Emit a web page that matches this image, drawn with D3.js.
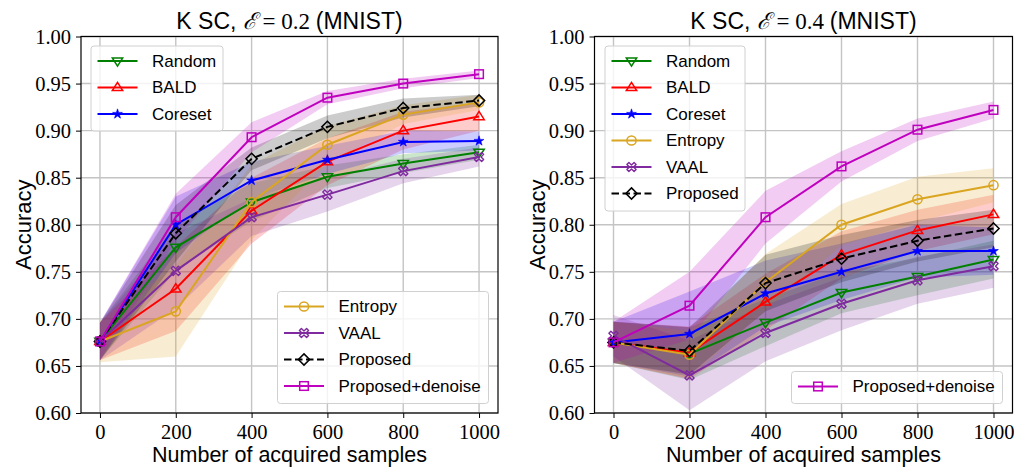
<!DOCTYPE html>
<html><head><meta charset="utf-8">
<script src="https://cdn.jsdelivr.net/npm/d3@7"></script>
<style>body{margin:0;background:#fff}svg{display:block}</style>
</head><body><svg id="c" width="1014" height="467"></svg>
<script>
// ---- data ----
const samples = [0, 200, 400, 600, 800, 1000];
const xTicks = [0, 200, 400, 600, 800, 1000];
const yTicks = [0.60, 0.65, 0.70, 0.75, 0.80, 0.85, 0.90, 0.95, 1.00];
const seriesNames = ["Random", "BALD", "Coreset", "Entropy", "VAAL", "Proposed", "Proposed+denoise"];

// E = 0.2
const rand02 = [0.676, 0.776, 0.824, 0.851, 0.865, 0.877];
const bald02 = [0.676, 0.732, 0.815, 0.867, 0.900, 0.915];
const core02 = [0.676, 0.800, 0.847, 0.869, 0.888, 0.889];
const entr02 = [0.676, 0.708, 0.824, 0.885, 0.917, 0.930];
const vaal02 = [0.676, 0.751, 0.808, 0.832, 0.857, 0.872];
const prop02 = [0.676, 0.791, 0.870, 0.904, 0.924, 0.932];
const deno02 = [0.676, 0.808, 0.893, 0.935, 0.950, 0.960];
const randStd02 = [0.020, 0.025, 0.020, 0.012, 0.010, 0.008];
const baldStd02 = [0.020, 0.045, 0.035, 0.025, 0.020, 0.015];
const coreStd02 = [0.020, 0.030, 0.020, 0.015, 0.012, 0.010];
const entrStd02 = [0.022, 0.048, 0.040, 0.020, 0.010, 0.008];
const vaalStd02 = [0.020, 0.040, 0.020, 0.018, 0.013, 0.010];
const propStd02 = [0.020, 0.030, 0.012, 0.012, 0.010, 0.006];
const denoStd02 = [0.020, 0.025, 0.016, 0.007, 0.005, 0.004];

// E = 0.4
const rand04 = [0.675, 0.663, 0.696, 0.728, 0.745, 0.763];
const bald04 = [0.675, 0.664, 0.718, 0.768, 0.794, 0.811];
const core04 = [0.675, 0.684, 0.727, 0.750, 0.772, 0.772];
const entr04 = [0.675, 0.662, 0.739, 0.800, 0.827, 0.842];
const vaal04 = [0.682, 0.640, 0.685, 0.716, 0.741, 0.756];
const prop04 = [0.675, 0.666, 0.738, 0.764, 0.783, 0.796];
const deno04 = [0.675, 0.714, 0.808, 0.862, 0.901, 0.922];
const randStd04 = [0.022, 0.028, 0.025, 0.022, 0.020, 0.020];
const baldStd04 = [0.022, 0.028, 0.030, 0.025, 0.022, 0.021];
const coreStd04 = [0.022, 0.045, 0.035, 0.030, 0.028, 0.025];
const entrStd04 = [0.022, 0.025, 0.030, 0.022, 0.024, 0.018];
const vaalStd04 = [0.022, 0.037, 0.030, 0.028, 0.025, 0.023];
const propStd04 = [0.022, 0.025, 0.030, 0.025, 0.022, 0.020];
const denoStd04 = [0.022, 0.036, 0.028, 0.016, 0.012, 0.009];

// ---- styles ----
const colors = {"Random":"#008000","BALD":"#ff0000","Coreset":"#0000ff","Entropy":"#daa520",
  "VAAL":"#7f2a9f","Proposed":"#000000","Proposed+denoise":"#bf00bf"};
const markers = {"Random":"v","BALD":"^","Coreset":"*","Entropy":"o","VAAL":"X","Proposed":"D","Proposed+denoise":"s"};

const panels = [
  {eps:"0.2", x0:81, x1:498, legends:[
      {names:["Random","BALD","Coreset"], x:91, y:46, w:132, h:85},
      {names:["Entropy","VAAL","Proposed","Proposed+denoise"], x:277.5, y:291.5, w:211, h:112}],
   series:{"Random":[rand02,randStd02],"BALD":[bald02,baldStd02],"Coreset":[core02,coreStd02],
     "Entropy":[entr02,entrStd02],"VAAL":[vaal02,vaalStd02],"Proposed":[prop02,propStd02],
     "Proposed+denoise":[deno02,denoStd02]}},
  {eps:"0.4", x0:594.5, x1:1012.5, legends:[
      {names:["Random","BALD","Coreset","Entropy","VAAL","Proposed"], x:605, y:46, w:140, h:165},
      {names:["Proposed+denoise"], x:791.5, y:371.5, w:211, h:32}],
   series:{"Random":[rand04,randStd04],"BALD":[bald04,baldStd04],"Coreset":[core04,coreStd04],
     "Entropy":[entr04,entrStd04],"VAAL":[vaal04,vaalStd04],"Proposed":[prop04,propStd04],
     "Proposed+denoise":[deno04,denoStd04]}}
];
const yTop = 36.5, yBot = 413;
const SANS = "'Liberation Sans', Arial, sans-serif";
const SERIF = "'Liberation Serif', 'DejaVu Serif', serif";

const svg = d3.select("#c");

function drawMarker(g, type, cx, cy, color) {
  const sw = 1.5;
  if (type === "o") {
    g.append("circle").attr("cx", cx).attr("cy", cy).attr("r", 4.6)
      .attr("fill", "none").attr("stroke", color).attr("stroke-width", sw);
  } else if (type === "s") {
    g.append("rect").attr("x", cx-4.3).attr("y", cy-4.3).attr("width", 8.6).attr("height", 8.6)
      .attr("fill", "none").attr("stroke", color).attr("stroke-width", sw);
  } else if (type === "D") {
    const r = 5.6;
    g.append("path").attr("d", `M${cx},${cy-r}L${cx+r},${cy}L${cx},${cy+r}L${cx-r},${cy}Z`)
      .attr("fill", "none").attr("stroke", color).attr("stroke-width", sw);
  } else if (type === "v" || type === "^") {
    const r = 5.2, s = type === "v" ? 1 : -1;
    g.append("path").attr("d", `M${cx-r},${cy-s*r*0.6}L${cx+r},${cy-s*r*0.6}L${cx},${cy+s*r}Z`)
      .attr("fill", "none").attr("stroke", color).attr("stroke-width", sw);
  } else if (type === "*") {
    g.append("path").attr("d", d3.symbol(d3.symbolStar, 30)()).attr("transform", `translate(${cx},${cy})`)
      .attr("fill", color).attr("stroke", color).attr("stroke-width", 0.6);
  } else if (type === "X") {
    const a = 2.0, b = 4.6;
    const pts = [[0,-a],[b-a,-b],[b,-b+a],[a,0],[b,b-a],[b-a,b],[0,a],[-b+a,b],[-b,b-a],[-a,0],[-b,-b+a],[-b+a,-b]];
    g.append("path").attr("d", "M" + pts.map(p => `${cx+p[0]},${cy+p[1]}`).join("L") + "Z")
      .attr("fill", "none").attr("stroke", color).attr("stroke-width", 1.4).attr("stroke-linejoin", "round");
  }
}

panels.forEach(p => {
  const x = d3.scaleLinear().domain([-50, 1050]).range([p.x0, p.x1]);
  const y = d3.scaleLinear().domain([0.6, 1.0]).range([yBot, yTop]);
  const g = svg.append("g");

  // grid
  g.append("g").selectAll("line").data(xTicks).join("line")
    .attr("x1", d => x(d)).attr("x2", d => x(d)).attr("y1", yTop).attr("y2", yBot)
    .attr("stroke", "#c4c4c4").attr("stroke-width", 1.4);
  g.append("g").selectAll("line").data(yTicks).join("line")
    .attr("x1", p.x0).attr("x2", p.x1).attr("y1", d => y(d)).attr("y2", d => y(d))
    .attr("stroke", "#c4c4c4").attr("stroke-width", 1.4);

  // bands
  seriesNames.forEach(n => {
    const [vals, sd] = p.series[n];
    const area = d3.area().x((d, i) => x(samples[i])).y0((d, i) => y(vals[i] - sd[i])).y1((d, i) => y(vals[i] + sd[i]));
    g.append("path").attr("d", area(vals)).attr("fill", colors[n]).attr("fill-opacity", 0.2);
  });
  // lines
  seriesNames.forEach(n => {
    const [vals] = p.series[n];
    const line = d3.line().x((d, i) => x(samples[i])).y(d => y(d));
    g.append("path").attr("d", line(vals)).attr("fill", "none").attr("stroke", colors[n])
      .attr("stroke-width", 2).attr("stroke-dasharray", n === "Proposed" ? "7.5,3.5" : null);
    vals.forEach((v, i) => drawMarker(g, markers[n], x(samples[i]), y(v), colors[n]));
  });

  // axes
  const ax = g.append("g").attr("transform", `translate(0,${yBot})`)
    .call(d3.axisBottom(x).tickValues(xTicks).tickSize(5).tickPadding(6).tickFormat(d3.format("d")));
  const ay = g.append("g").attr("transform", `translate(${p.x0},0)`)
    .call(d3.axisLeft(y).tickValues(yTicks).tickSize(5).tickPadding(5).tickFormat(d3.format(".2f")));
  [ax, ay].forEach(a => {
    a.select(".domain").remove();
    a.selectAll("line").attr("stroke", "#000").attr("stroke-width", 1);
    a.selectAll("text").attr("font-family", SERIF).attr("font-size", 20.5).attr("fill", "#000");
  });
  ax.selectAll("text").attr("dy", "0.71em");
  g.append("rect").attr("x", p.x0).attr("y", yTop).attr("width", p.x1 - p.x0).attr("height", yBot - yTop)
    .attr("fill", "none").attr("stroke", "#000").attr("stroke-width", 1.2);

  // titles
  const cx = (p.x0 + p.x1) / 2;
  const t = g.append("text").attr("x", cx).attr("y", 28.5).attr("text-anchor", "middle").attr("font-size", 23);
  t.append("tspan").attr("font-family", SANS).text("K SC, ");
  t.append("tspan").attr("font-family", "'DejaVu Serif', serif").attr("font-style", "italic").text("ℰ");
  t.append("tspan").attr("font-family", SERIF).text(" = " + p.eps + " ");
  t.append("tspan").attr("font-family", SANS).text("(MNIST)");
  g.append("text").attr("x", cx).attr("y", 461.5).attr("text-anchor", "middle")
    .attr("font-family", SANS).attr("font-size", 21.5).text("Number of acquired samples");
  g.append("text").attr("transform", `translate(${p.x0 - 50},${(yTop + yBot) / 2}) rotate(-90)`)
    .attr("text-anchor", "middle").attr("font-family", SANS).attr("font-size", 22).text("Accuracy");

  // legends
  p.legends.forEach(L => {
    const lg = g.append("g");
    lg.append("rect").attr("x", L.x).attr("y", L.y).attr("width", L.w).attr("height", L.h).attr("rx", 3)
      .attr("fill", "#fff").attr("fill-opacity", 0.8).attr("stroke", "#d0d0d0").attr("stroke-width", 1);
    L.names.forEach((n, i) => {
      const ly = L.y + 15 + i * 26.5;
      lg.append("line").attr("x1", L.x + 6.5).attr("x2", L.x + 46.5).attr("y1", ly).attr("y2", ly)
        .attr("stroke", colors[n]).attr("stroke-width", 2)
        .attr("stroke-dasharray", n === "Proposed" ? "7.5,3.5" : null);
      drawMarker(lg, markers[n], L.x + 26.5, ly, colors[n]);
      lg.append("text").attr("x", L.x + 61).attr("y", ly).attr("dy", "0.35em")
        .attr("font-family", SANS).attr("font-size", 17).text(n);
    });
  });
});
</script></body></html>
